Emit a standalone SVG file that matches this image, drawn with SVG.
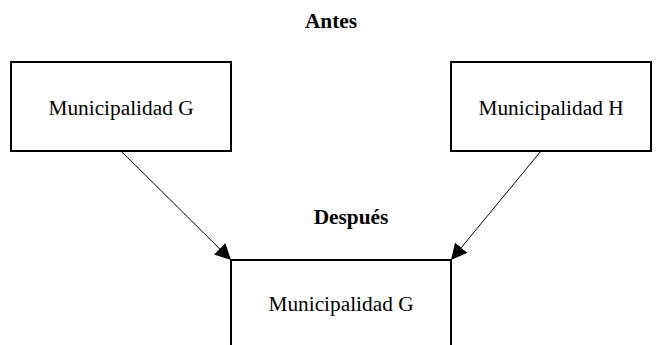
<svg xmlns="http://www.w3.org/2000/svg" width="663" height="345" viewBox="0 0 663 345">
<style>
.box{fill:#fff;stroke:#000;stroke-width:2}
.lbl{font-family:"Liberation Serif","Times New Roman",serif;font-size:21.33px;fill:#000;text-anchor:middle}
.ttl{font-family:"Liberation Serif","Times New Roman",serif;font-size:21.33px;font-weight:bold;fill:#000;text-anchor:middle}
.conn{stroke:#000;stroke-width:1;fill:none}
</style>
<defs>
<marker id="arr" viewBox="0 0 10 10" refX="10" refY="5" markerWidth="16" markerHeight="16" markerUnits="userSpaceOnUse" orient="auto">
<path d="M0,0 L10,5 L0,10 z" fill="#000"/>
</marker>
</defs>
<rect width="663" height="345" fill="#fff"/>
<text class="ttl" x="331" y="28">Antes</text>
<text class="ttl" x="351" y="224">Después</text>
<g id="nodeG1">
<rect class="box" x="11" y="62" width="220" height="89"/>
<text class="lbl" x="121" y="115">Municipalidad G</text>
</g>
<g id="nodeH">
<rect class="box" x="451" y="62" width="200" height="89"/>
<text class="lbl" x="551" y="115">Municipalidad H</text>
</g>
<g id="nodeG2">
<rect class="box" x="231" y="260" width="220" height="100"/>
<text class="lbl" x="341" y="311">Municipalidad G</text>
</g>
<g id="connectors">
<line class="conn" x1="121" y1="151" x2="231" y2="260" marker-end="url(#arr)"/>
<line class="conn" x1="541" y1="151" x2="451" y2="260" marker-end="url(#arr)"/>
</g>
</svg>
